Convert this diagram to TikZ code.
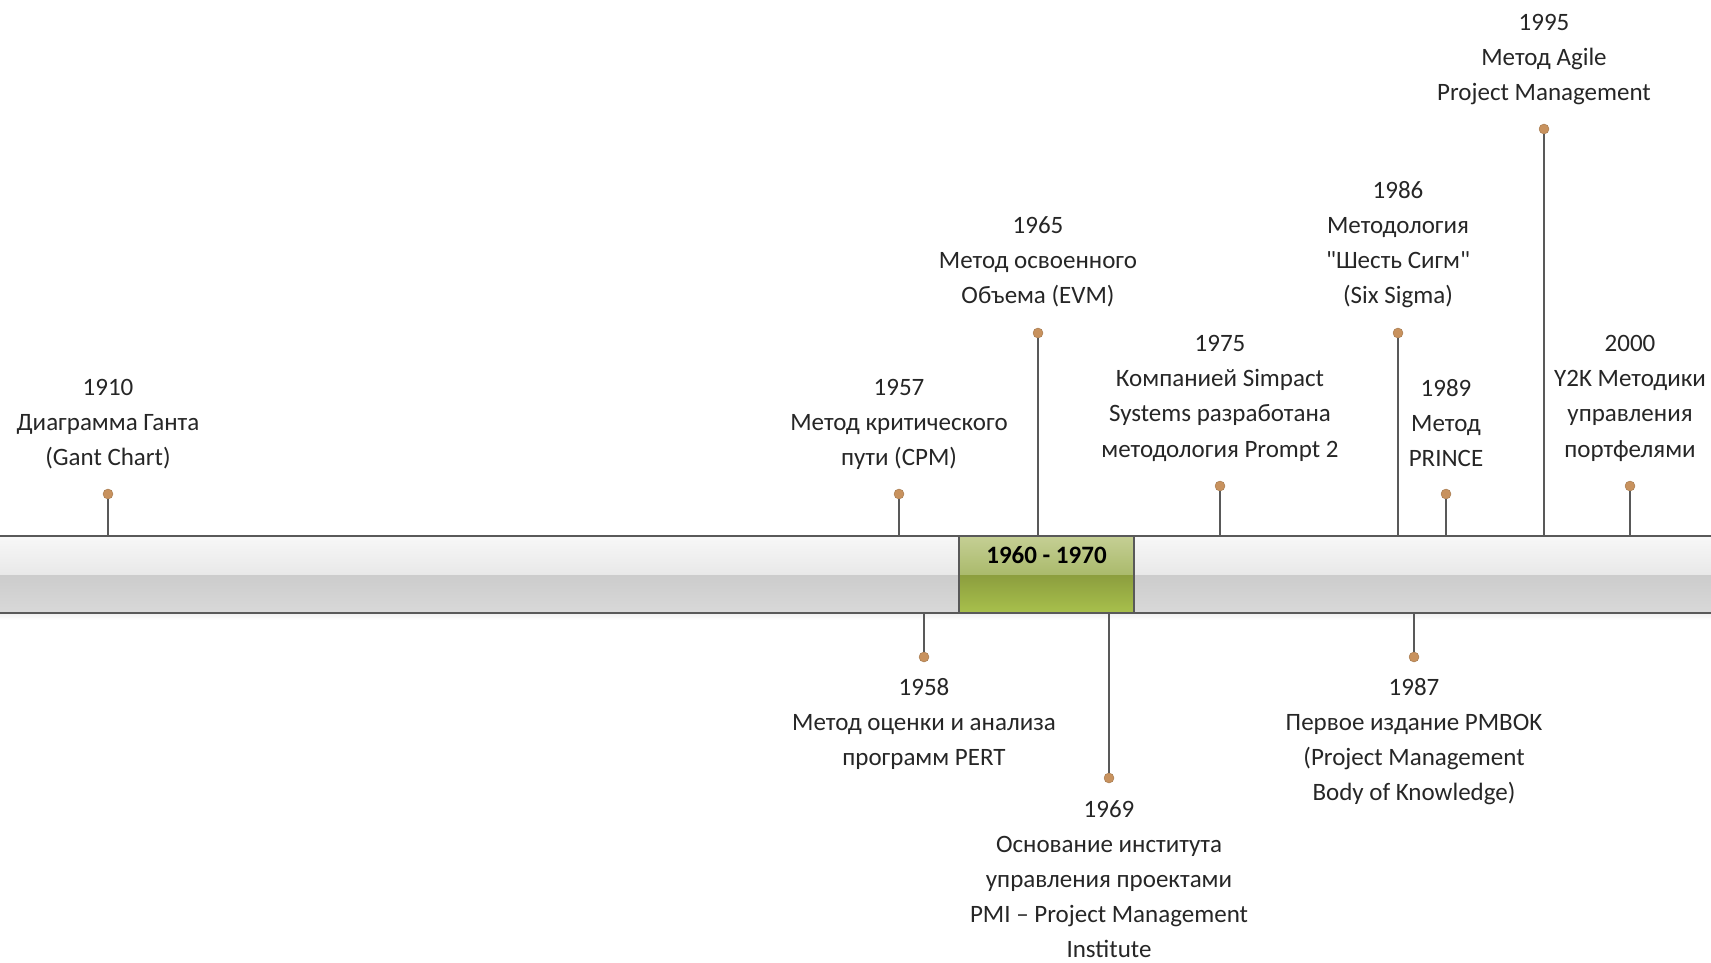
\documentclass[tikz,border=0pt]{standalone}
\usepackage{fontspec}
\setmainfont{Carlito}
\begin{document}
\begin{tikzpicture}[x=1pt,y=-1pt,
  lbl/.style={anchor=north,align=center,inner sep=0pt,font=\fontsize{25}{35.2}\selectfont,text=black!85},
  dot/.style={circle,fill=dotc,draw=dotc!80!black,line width=0.4pt,minimum size=10pt,inner sep=0pt},
  stem/.style={draw=black!65,line width=1.6pt},
  edge/.style={draw=black!65,line width=2pt}]
\definecolor{dotc}{HTML}{C8925E}
\useasboundingbox (0,0) rectangle (1711,963);
% bar
\shade[top color=black!3,bottom color=black!9] (0,536) rectangle (1711,575);
\shade[top color=black!20,bottom color=black!15] (0,575) rectangle (1711,613);
\shade[top color=black!6,bottom color=white] (0,613) rectangle (1711,620);
\node[inner sep=0pt,minimum width=1711pt,minimum height=77pt] (bar) at (855.5,574.5) {};
% green period
\shade[top color={rgb,255:red,197;green,207;blue,148},bottom color={rgb,255:red,170;green,186;blue,108}] (959,536) rectangle (1134,575);
\shade[top color={rgb,255:red,140;green,158;blue,62},bottom color={rgb,255:red,168;green,192;blue,76}] (959,575) rectangle (1134,613);
\node[inner sep=0pt,minimum width=175pt,minimum height=77pt] (period) at (1046.5,574.5) {};
\draw[edge] (period.north west) -- (period.south west);
\draw[edge] (period.north east) -- (period.south east);
\node[font=\fontsize{25}{28}\selectfont,text=black] (ptxt) at (1046.5,555) {\textbf{1960 - 1970}};
\draw[edge] (bar.north west) -- (bar.north east);
\draw[edge] (bar.south west) -- (bar.south east);
% above the bar
\node[dot] (d1910) at (108,494) {};
\node[dot] (d1957) at (899,494) {};
\node[dot] (d1965) at (1038,333) {};
\node[dot] (d1975) at (1220,486) {};
\node[dot] (d1986) at (1398,333) {};
\node[dot] (d1989) at (1446,494) {};
\node[dot] (d1995) at (1544,129) {};
\node[dot] (d2000) at (1630,486) {};
\foreach \d in {d1910,d1957,d1965,d1975,d1986,d1989,d1995,d2000}
  \draw[stem] (\d.south) -- (\d |- bar.north);
% below the bar
\node[dot] (d1958) at (924,657) {};
\node[dot] (d1969) at (1109,778) {};
\node[dot] (d1987) at (1414,657) {};
\foreach \d in {d1958,d1969,d1987}
  \draw[stem] (\d.north) -- (\d |- bar.south);
% labels
\node[lbl] (t1910) at (108,379) {1910\\Диаграмма Ганта\\(Gant Chart)};
\node[lbl] (t1957) at (899,379) {1957\\Метод критического\\пути (CPM)};
\node[lbl] (t1965) at (1038,216) {1965\\Метод освоенного\\Объема (EVM)};
\node[lbl] (t1975) at (1220,335) {1975\\Компанией Simpact\\Systems разработана\\методология Prompt 2};
\node[lbl] (t1986) at (1398,181) {1986\\Методология\\\textquotedbl Шесть Сигм\textquotedbl\\(Six Sigma)};
\node[lbl] (t1989) at (1446,379) {1989\\Метод\\PRINCE};
\node[lbl] (t1995) at (1544,14) {1995\\Метод Agile\\Project Management};
\node[lbl] (t2000) at (1630,335) {2000\\Y2K Методики\\управления\\портфелями};
\node[lbl] (t1958) at (924,678) {1958\\Метод оценки и анализа\\программ PERT};
\node[lbl] (t1969) at (1109,800) {1969\\Основание института\\управления проектами\\PMI – Project Management\\Institute};
\node[lbl] (t1987) at (1414,678) {1987\\Первое издание PMBOK\\(Project Management\\Body of Knowledge)};
\end{tikzpicture}
\end{document}
